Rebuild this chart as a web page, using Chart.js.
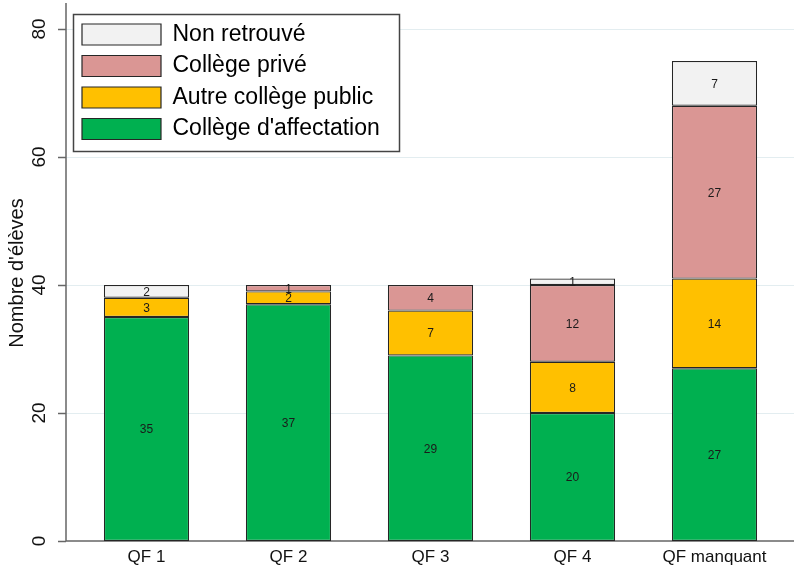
<!DOCTYPE html>
<html>
<head>
<meta charset="utf-8">
<script src="https://cdn.jsdelivr.net/npm/chart.js@4/dist/chart.umd.min.js"></script>
<style>
  html, body { margin: 0; padding: 0; background: #fff; }
  #wrap { width: 794px; height: 566px; }
</style>
</head>
<body>
<div id="wrap"><canvas id="eleves" width="794" height="566"></canvas></div>
<script>
    'use strict';

    // categories and series (bottom to top of the stack)
    var categories = ['QF 1', 'QF 2', 'QF 3', 'QF 4', 'QF manquant'];
    var collegeAffectation = [35, 37, 29, 20, 27];
    var autreCollegePublic = [3, 2, 7, 8, 14];
    var collegePrive = [0, 1, 4, 12, 27];
    var nonRetrouve = [2, 0, 0, 1, 7];
    var yTicks = [0, 20, 40, 60, 80];

    var FONT = '"Liberation Sans", Arial, Helvetica, sans-serif';
    var EDGE = '#262626';
    var AXIS = '#666666';
    var LEGEND_SIZE = 23;

    // Stata-like axes: the axis lines sit a little outside the plot region
    var axesPlugin = {
        id: 'stataAxes',
        beforeDraw: function (chart) {
            // grid lines go under everything, legend included
            var ctx = chart.ctx;
            var y = chart.scales.y;
            var axisX = chart.chartArea.left - 9.5;
            ctx.save();
            ctx.lineWidth = 1;
            ctx.strokeStyle = '#e3edf0';
            yTicks.forEach(function (v) {
                if (v === 0) { return; }
                var py = Math.round(y.getPixelForValue(v)) + 0.5;
                ctx.beginPath();
                ctx.moveTo(axisX, py);
                ctx.lineTo(chart.width, py);
                ctx.stroke();
            });
            ctx.restore();
        },
        beforeDatasetsDraw: function (chart) {
            var ctx = chart.ctx;
            var area = chart.chartArea;
            var y = chart.scales.y;
            var axisX = area.left - 9.5;
            ctx.save();
            ctx.lineWidth = 1.5;
            ctx.strokeStyle = AXIS;
            ctx.beginPath();
            ctx.moveTo(axisX, area.top - 2);
            ctx.lineTo(axisX, area.bottom);
            ctx.lineTo(chart.width, area.bottom);
            ctx.stroke();
            yTicks.forEach(function (v) {
                var py = Math.round(y.getPixelForValue(v)) + 0.5;
                ctx.beginPath();
                ctx.moveTo(axisX - 8, py);
                ctx.lineTo(axisX, py);
                ctx.stroke();
            });
            ctx.restore();
        },
        afterDatasetsDraw: function (chart) {
            var ctx = chart.ctx;
            ctx.save();
            ctx.font = '12px ' + FONT;
            ctx.fillStyle = '#1a1a1a';
            ctx.textAlign = 'center';
            ctx.textBaseline = 'middle';
            chart.data.datasets.forEach(function (ds, i) {
                var meta = chart.getDatasetMeta(i);
                meta.data.forEach(function (bar, j) {
                    var v = ds.data[j];
                    if (!v) { return; }
                    ctx.fillText(String(v), bar.x, (bar.y + bar.base) / 2 + 1);
                });
            });
            ctx.restore();
        }
    };

    // legend sits in the top-left corner of the plot, inside a white frame
    var legendFramePlugin = {
        id: 'legendFrame',
        afterLayout: function (chart) {
            var lg = chart.legend;
            var pad = lg.options.labels.padding;
            lg.left = chart.chartArea.left + 6.5 - pad;
            lg.top = chart.chartArea.top + 18 - pad;
        },
        beforeDraw: function (chart) {
            var lg = chart.legend;
            var lab = lg.options.labels;
            var items = lg.legendItems || [];
            if (!items.length) { return; }
            var ctx = chart.ctx;
            ctx.save();
            ctx.font = LEGEND_SIZE + 'px ' + FONT;
            var widest = 0;
            items.forEach(function (it) {
                widest = Math.max(widest, ctx.measureText(it.text).width);
            });
            var x0 = lg.left + lab.padding;
            var y0 = lg.top + lab.padding + (LEGEND_SIZE - lab.boxHeight) / 2;
            var n = items.length;
            var right = x0 + lab.boxWidth + LEGEND_SIZE / 2 + widest + 19;
            var bottom = y0 + (n - 1) * (LEGEND_SIZE + lab.padding) + lab.boxHeight + 11;
            var fx = Math.round(x0 - 9) + 0.5;
            var fy = Math.round(y0 - 10) + 0.5;
            var fw = Math.round(right - x0 + 9);
            var fh = Math.round(bottom - y0 + 10);
            ctx.fillStyle = '#fff';
            ctx.fillRect(fx, fy, fw, fh);
            ctx.lineWidth = 1.5;
            ctx.strokeStyle = '#444';
            ctx.strokeRect(fx, fy, fw, fh);
            ctx.restore();
        }
    };

    function makeSet(label, values, color) {
        return {
            label: label,
            data: values,
            backgroundColor: color,
            borderColor: EDGE,
            borderWidth: 1.2,
            borderSkipped: false,
            categoryPercentage: 1,
            barPercentage: 0.6
        };
    }

    var ctx = document.getElementById('eleves').getContext('2d');
    new Chart(ctx, {
        type: 'bar',
        data: {
            labels: categories,
            datasets: [
                makeSet("Collège d'affectation", collegeAffectation, '#00B050'),
                makeSet('Autre collège public', autreCollegePublic, '#FFC000'),
                makeSet('Collège privé', collegePrive, '#DA9694'),
                makeSet('Non retrouvé', nonRetrouve, '#F2F2F2')
            ]
        },
        plugins: [axesPlugin, legendFramePlugin],
        options: {
            responsive: false,
            animation: false,
            devicePixelRatio: 1,
            layout: { padding: { left: 0, right: 8.5, top: 5, bottom: 0 } },
            plugins: {
                tooltip: { enabled: false },
                legend: {
                    position: 'chartArea',
                    align: 'start',
                    reverse: true,
                    labels: {
                        boxWidth: 79,
                        boxHeight: 21,
                        padding: 8.5,
                        color: '#000',
                        font: { family: FONT, size: LEGEND_SIZE }
                    }
                }
            },
            scales: {
                x: {
                    stacked: true,
                    grid: { display: false, drawTicks: false },
                    border: { display: false },
                    ticks: {
                        color: '#111',
                        padding: 6,
                        maxRotation: 0,
                        font: { family: FONT, size: 17 }
                    },
                    afterFit: function (scale) {
                        scale.height = 25;
                        scale.paddingLeft = 0;
                        scale.paddingRight = 0;
                    }
                },
                y: {
                    stacked: true,
                    min: 0,
                    max: 83.75,
                    grid: { display: false, drawTicks: false },
                    border: { display: false },
                    ticks: {
                        stepSize: 20,
                        includeBounds: false,
                        minRotation: 90,
                        maxRotation: 90,
                        crossAlign: 'center',
                        padding: 25.5,
                        color: '#111',
                        font: { family: FONT, size: 19 }
                    },
                    title: {
                        display: true,
                        text: "Nombre d'élèves",
                        color: '#111',
                        padding: { top: 5, bottom: 0 },
                        font: { family: FONT, size: 20 }
                    },
                    afterFit: function (scale) {
                        scale.width = 75.5;
                        scale.paddingTop = 0;
                        scale.paddingBottom = 0;
                    }
                }
            }
        }
    });
</script>
</body>
</html>
